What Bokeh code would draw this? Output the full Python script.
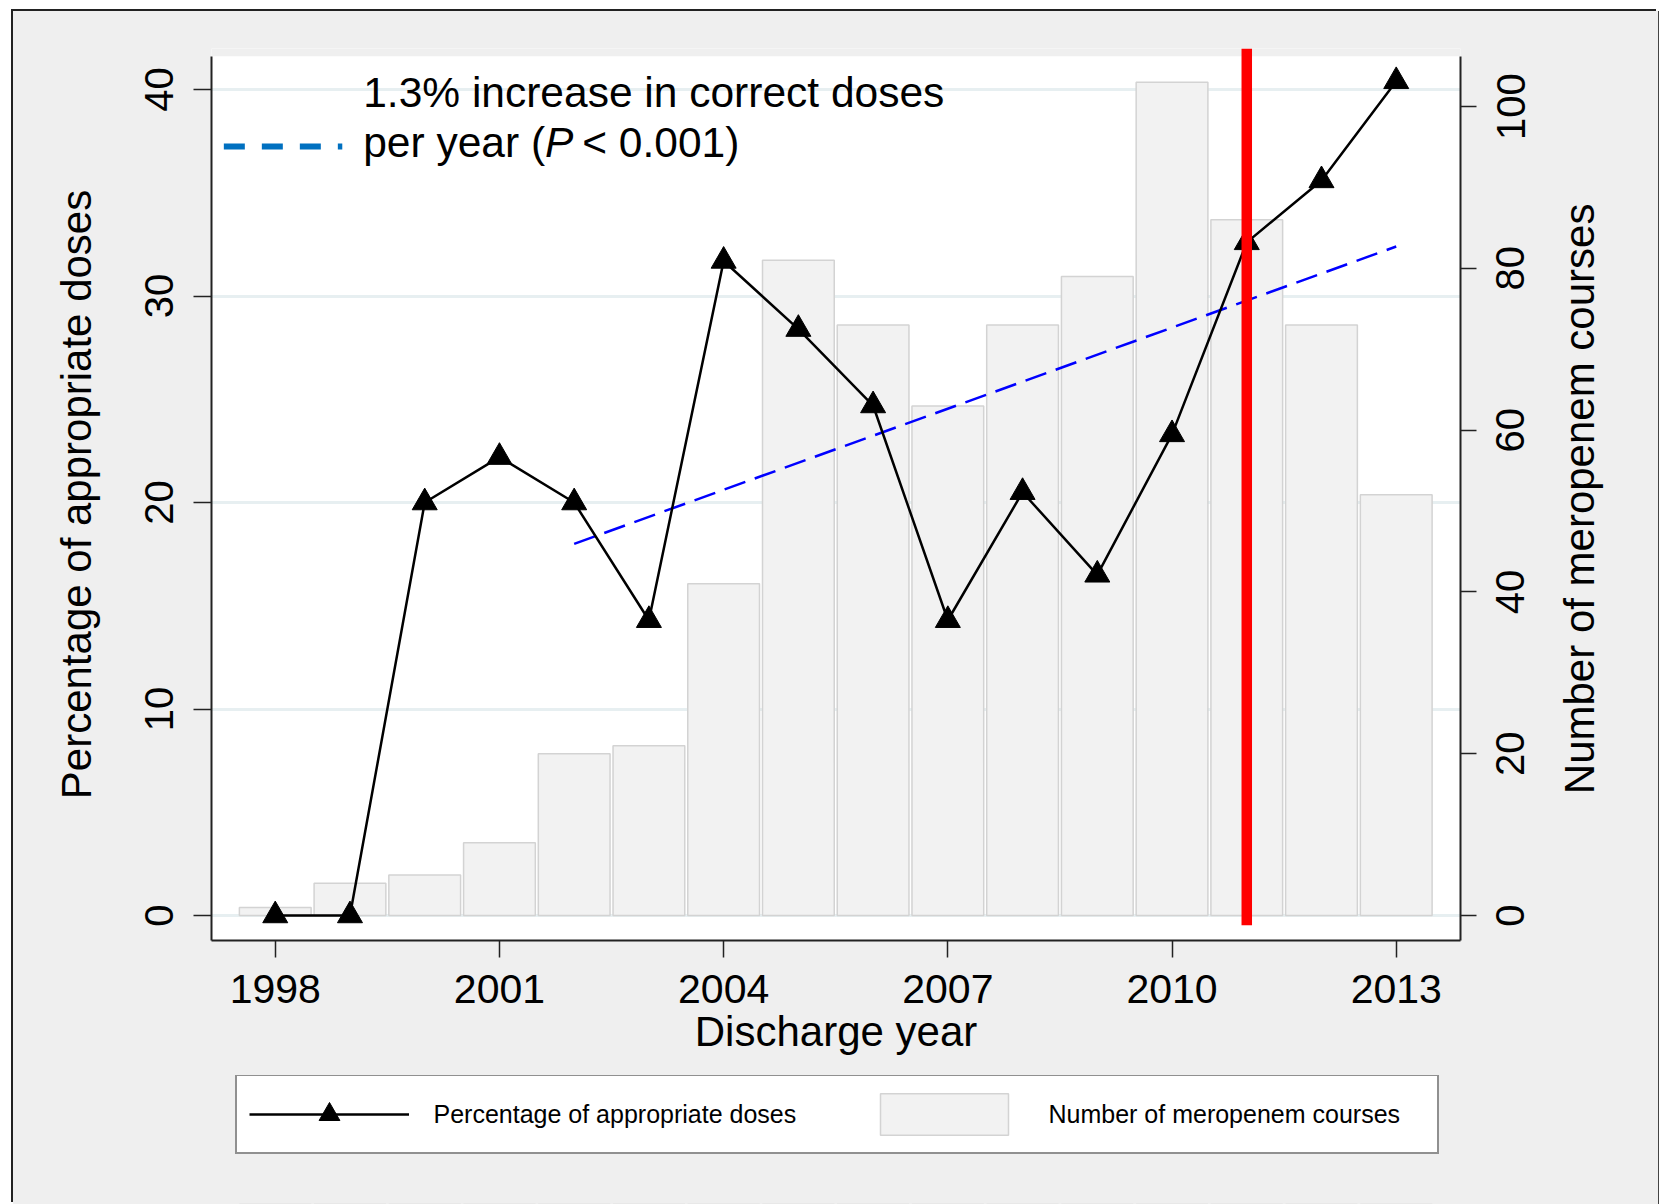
import math

from bokeh.embed import file_html
from bokeh.layouts import column
from bokeh.models import (BoxAnnotation, ColumnDataSource, CustomJSTickFormatter,
                          FixedTicker, Label, Legend, LegendItem, LinearAxis,
                          Range1d)
from bokeh.plotting import figure
from bokeh.resources import INLINE

# ---- data -------------------------------------------------------------
years = [1998, 1999, 2000, 2001, 2002, 2003, 2004, 2005,
         2006, 2007, 2008, 2009, 2010, 2011, 2012, 2013]
courses = [1, 4, 5, 9, 20, 21, 41, 81, 73, 63, 73, 79, 103, 86, 73, 52]
pct_appropriate = [0.0, 0.0, 20.0, 22.2, 20.0, 14.3, 31.7, 28.4,
                   24.7, 14.3, 20.5, 16.5, 23.3, 32.6, 35.6, 40.4]
trend_years = [2002, 2013]
trend_pct = [18.0, 32.4]
change_year = 2011

year_ticks = [1998, 2001, 2004, 2007, 2010, 2013]
pct_ticks = [0, 10, 20, 30, 40]
course_ticks = [0, 20, 40, 60, 80, 100]

trend_text = "1.3% increase in correct doses"
line_label = "Percentage of appropriate doses"
bar_label = "Number of meropenem courses"

# ---- geometry / styling -----------------------------------------------
FONT = "Liberation Sans"
BG = "#efefef"
X_LO, X_HI = 1997.147, 2013.86
PCT_LO, PCT_HI = -1.21, 41.99
PCT_PLOT_TOP = 41.62
K = 2.5525                        # courses per percentage point
FRAME_H = 892
PX_PER_PCT = FRAME_H / (PCT_HI - PCT_LO)
PX_PER_COURSE = PX_PER_PCT / K
TICK_FONT_PX = 40
DIGIT_PX = 0.556 * TICK_FONT_PX   # advance of one digit

# vertical tick labels are anchored at one end; offset the label ticks by
# half the label length so each number sits centred on its tick mark
left_label_pos = [v + len(str(v)) * DIGIT_PX / 2 / PX_PER_PCT for v in pct_ticks]
right_label_pos = [v - len(str(v)) * DIGIT_PX / 2 / PX_PER_COURSE for v in course_ticks]
right_title_pos = 51.5 - (14.06 * 42 / 2) / PX_PER_COURSE

src = ColumnDataSource(dict(year=years, courses=courses, pct=pct_appropriate))

p = figure(width=1645, height=1064,
           x_range=Range1d(X_LO, X_HI),
           y_range=Range1d(PCT_LO, PCT_HI),
           output_backend="svg", toolbar_location=None,
           min_border_left=198, min_border_right=198,
           min_border_top=37, min_border_bottom=135,
           background_fill_color="white", border_fill_color=BG,
           outline_line_color=None)
p.extra_y_ranges = {"courses": Range1d(PCT_LO * K, PCT_HI * K)}

# strip above the plot region keeps the page colour
p.add_layout(BoxAnnotation(bottom=PCT_PLOT_TOP, fill_color=BG, fill_alpha=1,
                           line_color=None, level="underlay"))

# grid
p.xgrid.visible = False
p.ygrid.ticker = FixedTicker(ticks=pct_ticks)
p.ygrid.grid_line_color = "#e7eff1"
p.ygrid.grid_line_width = 3


def style_axis(ax, size):
    ax.major_label_text_font = FONT
    ax.major_label_text_font_size = size
    ax.major_label_text_color = "black"
    ax.axis_label_text_font = FONT
    ax.axis_label_text_font_size = "42px"
    ax.axis_label_text_font_style = "normal"
    ax.axis_label_text_color = "black"
    ax.axis_line_color = "#222222"
    ax.axis_line_width = 2
    ax.major_tick_line_color = "#222222"
    ax.major_tick_line_width = 1.5
    ax.minor_tick_line_color = "#222222"
    ax.minor_tick_line_width = 1.5
    ax.major_tick_in = 0
    ax.minor_tick_in = 0


# bottom axis
xa = p.xaxis[0]
style_axis(xa, "41px")
xa.ticker = FixedTicker(ticks=year_ticks)
xa.major_tick_out = 17
xa.minor_tick_out = 0
xa.major_label_standoff = 17
xa.axis_label = "Discharge year"
xa.axis_label_standoff = 2

# left axis: tick marks as minor ticks, centred vertical numbers as majors
ya = p.yaxis[0]
style_axis(ya, f"{TICK_FONT_PX}px")
ya.ticker = FixedTicker(ticks=left_label_pos, minor_ticks=pct_ticks)
ya.formatter = CustomJSTickFormatter(code="return String(Math.round(tick / 10) * 10)")
ya.major_label_orientation = math.pi / 2
ya.major_tick_out = 0
ya.major_tick_line_color = None
ya.minor_tick_out = 18
ya.major_label_standoff = 34
ya.axis_label = line_label
ya.axis_label_standoff = 29
ya.bounds = (PCT_LO, PCT_PLOT_TOP)

# right axis
yr = LinearAxis(y_range_name="courses")
style_axis(yr, f"{TICK_FONT_PX}px")
yr.ticker = FixedTicker(ticks=right_label_pos, minor_ticks=course_ticks)
yr.formatter = CustomJSTickFormatter(code="return String(Math.round(tick / 20) * 20)")
yr.major_label_orientation = math.pi / 2
yr.major_tick_out = 0
yr.major_tick_line_color = None
yr.minor_tick_out = 16
yr.major_label_standoff = 34
yr.bounds = (PCT_LO * K, PCT_PLOT_TOP * K)
p.add_layout(yr, "right")

# right axis title, reading bottom-to-top
yt = LinearAxis(y_range_name="courses")
style_axis(yt, "42px")
yt.ticker = FixedTicker(ticks=[right_title_pos], minor_ticks=[])
yt.formatter = CustomJSTickFormatter(args=dict(t=bar_label), code="return t")
yt.major_label_orientation = math.pi / 2
yt.major_tick_out = 0
yt.minor_tick_out = 0
yt.major_tick_line_color = None
yt.axis_line_color = None
yt.major_label_standoff = 38
p.add_layout(yt, "right")

# bars: number of courses
bar_style = dict(fill_color="#f2f2f2", line_color="#d3d3d3", line_width=1.5)
p.vbar(x="year", top="courses", bottom=0, width=0.96, source=src,
       y_range_name="courses", **bar_style)

# fitted trend
p.line(trend_years, trend_pct, line_color="#0000ff", line_width=2.5,
       line_dash="22 10")

# percentage of appropriate doses
line_style = dict(line_color="black", line_width=2.5)
mark_style = dict(marker="triangle", size=25, fill_color="black",
                  line_color="black")
p.line(x="year", y="pct", source=src, **line_style)
p.scatter(x="year", y="pct", source=src, **mark_style)

# change point
p.segment(x0=[change_year], x1=[change_year], y0=[-0.47], y1=[PCT_HI],
          line_color="#ff0000", line_width=10.5)

# trend annotation: key line and two-line text
p.line([1997.312, 1998.897], [37.24, 37.24], line_color="#0070c0",
       line_width=6, line_dash="21 17")

common = dict(text_font=FONT, text_font_size="42.5px", text_color="black",
              text_baseline="alphabetic", text_align="left")
p.add_layout(Label(x=1999.177, y=39.87, text=trend_text, **common))
p.add_layout(Label(x=1999.177, y=37.45, text="per year (", **common))
p.add_layout(Label(x=1999.177, y=37.45, x_offset=181.9, text="P",
                   text_font_style="italic", **common))
p.add_layout(Label(x=1999.177, y=37.45, x_offset=219, text="< 0.001)",
                   **common))

# ---- legend strip below the chart -------------------------------------
# the strip's y range sits well above the data, so the series drawn here
# stay out of sight and only lend their styles to the legend keys
q = figure(width=1645, height=129, x_range=Range1d(X_LO, X_HI),
           y_range=Range1d(300, 301), x_axis_type=None, y_axis_type=None,
           output_backend="svg", toolbar_location=None,
           min_border_left=0, min_border_right=0,
           min_border_top=0, min_border_bottom=0,
           background_fill_color=BG, border_fill_color=BG,
           outline_line_color=None)
q.grid.visible = False
k_bars = q.vbar(x="year", top="courses", bottom=0, width=0.96, source=src,
                **bar_style)
k_line = q.line(x="year", y="pct", source=src, **line_style)
k_mark = q.scatter(x="year", y="pct", source=src, **mark_style)

leg = Legend(items=[LegendItem(label=line_label, renderers=[k_line, k_mark]),
                    LegendItem(label=bar_label, renderers=[k_bars])],
             orientation="horizontal", location=(23.5, 50),
             glyph_width=160, glyph_height=52, padding=12,
             label_standoff=25, label_width=376, spacing=54, margin=0,
             label_text_font=FONT, label_text_font_size="25px",
             label_text_color="black", border_line_color="#222222",
             border_line_width=2, background_fill_color="white",
             background_fill_alpha=1)
q.add_layout(leg, "center")

page = column(p, q, spacing=0)
page.margin = (11, 0, 0, 13)
page.styles = {"box-shadow": "-2px -2px 0 0 #222222, 1px 0 0 0 #444444",
               "background-color": BG}

open("out.html", "w").write(file_html(page, INLINE))
